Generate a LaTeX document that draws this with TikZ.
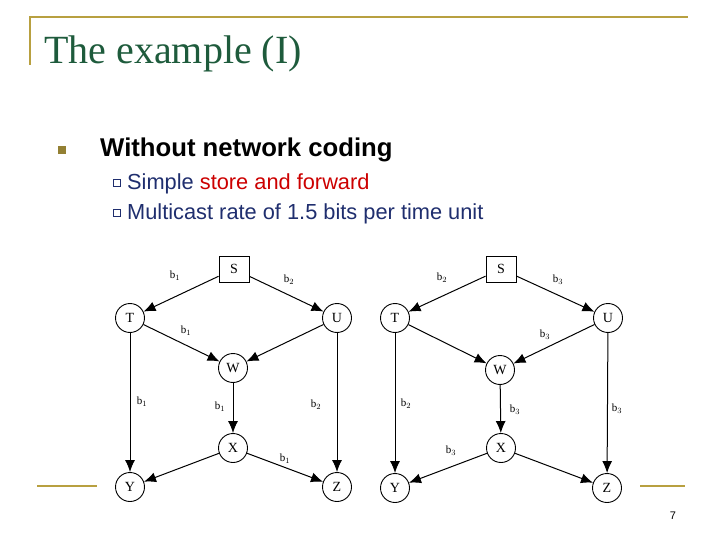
\documentclass[tikz,border=0pt]{standalone}
\usepackage{fontspec}
\setmainfont{Liberation Serif}
\newfontfamily\arial{Liberation Sans}
\usetikzlibrary{arrows.meta}
\definecolor{gold}{HTML}{B8A040}
\definecolor{titlegreen}{HTML}{1E5B3C}
\definecolor{navy}{HTML}{1F2E6E}
\begin{document}
\begin{tikzpicture}[x=1pt,y=-1pt,
  vtx/.style={draw,circle,minimum size=29pt,inner sep=0pt,line width=0.9pt,font=\fontsize{14}{14}\selectfont},
  src/.style={draw,rectangle,minimum width=30pt,minimum height=26pt,inner sep=0pt,line width=0.9pt,font=\fontsize{14}{14}\selectfont},
  lbl/.style={font=\fontsize{11}{11}\selectfont},
  arr/.style={-{Latex[length=12pt,width=10pt]},line width=1pt}]
\useasboundingbox (0,0) rectangle (720,540);
\draw[gold,line width=1.5pt] (30,65) -- (30,17) -- (688,17);
\draw[gold,line width=1.5pt] (37,486) -- (97,486) (640,486) -- (685,486);
\node[anchor=base west,text=titlegreen,font=\fontsize{40}{40}\selectfont,inner sep=0] (title) at (44,64) {The example (I)};
\node[fill=gold!80!black,minimum size=8pt,inner sep=0] (b0) at (62,150) {};
\node[anchor=base west,inner sep=0,font=\arial\bfseries\fontsize{25.7}{25.7}\selectfont] (h) at (100,157) {Without network coding};
\node[draw=navy,line width=0.6pt,minimum size=7pt,inner sep=0] (b1) at (117,183) {};
\node[draw=navy,line width=0.6pt,minimum size=7pt,inner sep=0] (b2) at (117,213) {};
\node[anchor=base west,inner sep=0,font=\arial\fontsize{21.8}{21.8}\selectfont,text=navy] (s1) at (127,190) {Simple \textcolor{red!80!black}{store and forward}};
\node[anchor=base west,inner sep=0,font=\arial\fontsize{21.8}{21.8}\selectfont,text=navy] (s2) at (127,220) {Multicast rate of 1.5 bits per time unit};
\node[font=\arial\fontsize{11}{11}\selectfont] (pg) at (673,516) {7};
% left graph
\node[src,fill=white] (S) at (234,269) {S};
\node[vtx,fill=white] (T) at (130,318) {T};
\node[vtx,fill=white] (U) at (337,318) {U};
\node[vtx] (W) at (233,368) {W};
\node[vtx] (X) at (233,448) {X};
\node[vtx,fill=white] (Y) at (130,487) {Y};
\node[vtx,fill=white] (Z) at (337,487) {Z};
\draw[arr] (S) -- (T); \draw[arr] (S) -- (U);
\draw[arr] (T) -- (W); \draw[arr] (U) -- (W);
\draw[arr] (T) -- (Y); \draw[arr] (U) -- (Z);
\draw[arr] (W) -- (X); \draw[arr] (X) -- (Y); \draw[arr] (X) -- (Z);
\node[lbl] (l1) at (175,276) {b$_1$};
\node[lbl] (l2) at (289,280) {b$_2$};
\node[lbl] (l3) at (186,331) {b$_1$};
\node[lbl] (l4) at (142,402) {b$_1$};
\node[lbl] (l5) at (220,407) {b$_1$};
\node[lbl] (l6) at (316,405) {b$_2$};
\node[lbl] (l7) at (285,459) {b$_1$};
% right graph
\node[src,fill=white] (S2) at (501,269) {S};
\node[vtx,fill=white] (T2) at (395,318) {T};
\node[vtx,fill=white] (U2) at (608,318) {U};
\node[vtx] (W2) at (500,370) {W};
\node[vtx] (X2) at (501,448) {X};
\node[vtx,fill=white] (Y2) at (395,488) {Y};
\node[vtx,fill=white] (Z2) at (607,488) {Z};
\draw[arr] (S2) -- (T2); \draw[arr] (S2) -- (U2);
\draw[arr] (T2) -- (W2); \draw[arr] (U2) -- (W2);
\draw[arr] (T2) -- (Y2); \draw[arr] (U2) -- (Z2);
\draw[arr] (W2) -- (X2); \draw[arr] (X2) -- (Y2); \draw[arr] (X2) -- (Z2);
\node[lbl] (r1) at (442,278) {b$_2$};
\node[lbl] (r2) at (558,280) {b$_3$};
\node[lbl] (r3) at (545,335) {b$_3$};
\node[lbl] (r4) at (406,404) {b$_2$};
\node[lbl] (r5) at (515,410) {b$_3$};
\node[lbl] (r6) at (617,409) {b$_3$};
\node[lbl] (r7) at (451,451) {b$_3$};
\end{tikzpicture}
\end{document}
